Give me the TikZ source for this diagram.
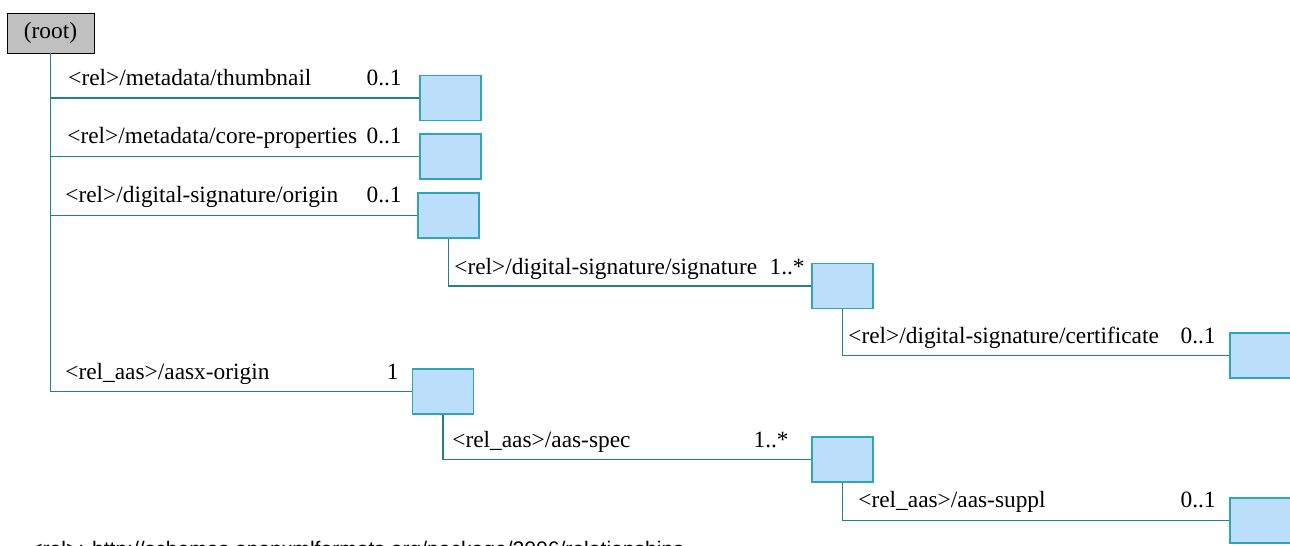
\documentclass[tikz,border=0pt]{standalone}
\usepackage{fontspec}
\setmainfont{Liberation Serif}
\newfontfamily\notefont{Liberation Sans}
\usetikzlibrary{positioning}
\definecolor{linkteal}{RGB}{38,128,136}
\definecolor{partedge}{RGB}{48,165,181}
\definecolor{partfill}{RGB}{187,222,251}
\definecolor{rootfill}{RGB}{192,192,192}

\begin{document}
\begin{tikzpicture}[
  x=0.02cm, y=-0.02cm,
  rootbox/.style={
    draw=black, fill=rootfill,
    minimum width=1.74cm, minimum height=0.8cm,
    inner sep=0pt, font=\fontsize{13.3}{15}\selectfont
  },
  part/.style={
    draw=partedge, fill=partfill, line width=0.8pt,
    minimum width=1.22cm, minimum height=0.9cm, inner sep=0pt
  },
  rel/.style={anchor=base west, inner sep=0pt, font=\fontsize{13.3}{15}\selectfont},
  card/.style={anchor=base east, inner sep=0pt, font=\fontsize{13.3}{15}\selectfont},
  link/.style={draw=linkteal, line width=0.7pt}
]
\useasboundingbox (0,0) rectangle (1290,545);
\clip (0,0) rectangle (1290,545);

% --- root and parts ---
\node[rootbox] (root) at (50.5,33) {\raisebox{-1pt}{(root)}};

\node[part] (thumb)  at (450.5,98)  {};
\node[part] (core)   at (450.5,156.5) {};
\node[part] (origin) at (448.5,215.5) {};
\node[part] (sig)    at (842.5,286) {};
\node[part] (cert)   at (1260.5,355.5) {};
\node[part] (aasx)   at (443,391.5) {};
\node[part] (spec)   at (842.5,459.5) {};
\node[part] (suppl)  at (1260.5,520.5) {};

% --- relationship labels ---
\node[rel] (lthumb)  at (68,85)   {<rel>/metadata/thumbnail};
\node[rel] (lcore)   at (67,143)  {<rel>/metadata/core-properties};
\node[rel] (lorigin) at (65,202)  {<rel>/digital-signature/origin};
\node[rel] (lsig)    at (454,274) {<rel>/digital-signature/signature};
\node[rel] (lcert)   at (848,343) {<rel>/digital-signature/certificate};
\node[rel] (laasx)   at (65,379)  {<rel\_aas>/aasx-origin};
\node[rel] (lspec)   at (452,447) {<rel\_aas>/aas-spec};
\node[rel] (lsuppl)  at (858,507) {<rel\_aas>/aas-suppl};

% --- cardinalities ---
\node[card] (cthumb)  at (402,85)   {0..1};
\node[card] (ccore)   at (402,143)  {0..1};
\node[card] (corigin) at (402,202)  {0..1};
\node[card] (csig)    at (805,274)  {1..*};
\node[card] (ccert)   at (1216,343) {0..1};
\node[card] (caasx)   at (399,379)  {1};
\node[card] (cspec)   at (789,447)  {1..*};
\node[card] (csuppl)  at (1216,507) {0..1};

% --- connectors ---
\coordinate (trunk) at (root.south |- aasx.west);
\draw[link] (root.south) -- (trunk) -- (aasx.west);
\foreach \p in {thumb,core,origin}
  \draw[link] (root.south |- \p.west) -- (\p.west);

\draw[link] (origin.south) |- (sig.west);
\draw[link] (sig.south) |- (cert.west);
\draw[link] (aasx.south) |- (spec.west);
\draw[link] (spec.south) |- (suppl.west);

% --- footnote (cut off at the bottom) ---
\node[anchor=base west, inner sep=0pt, font=\notefont\fontsize{12}{14}\selectfont] (note)
  at (30,556) {<rel>: http://schemas.openxmlformats.org/package/2006/relationships};
\end{tikzpicture}
\end{document}
